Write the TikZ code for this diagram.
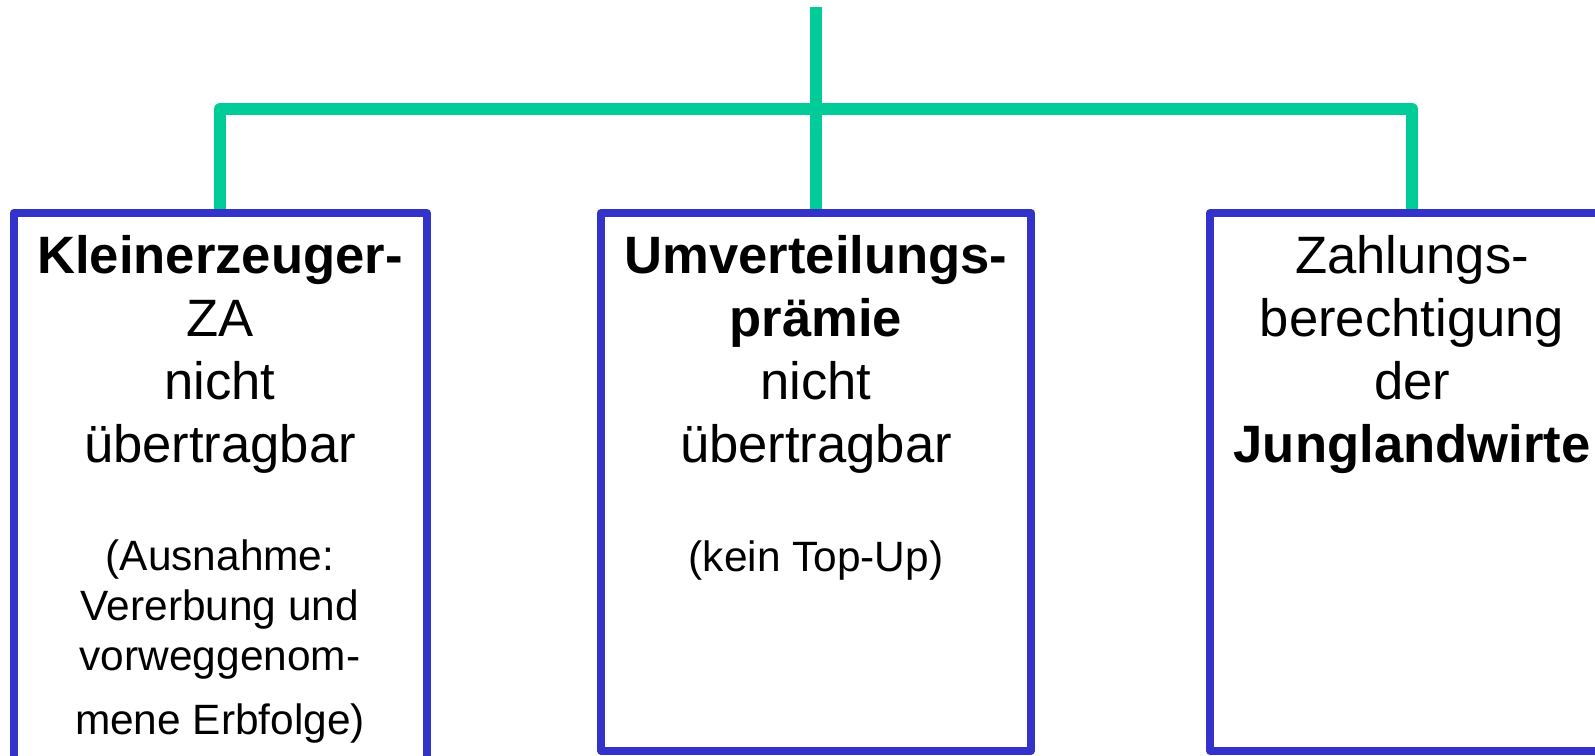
\documentclass[tikz,border=0pt]{standalone}
\usepackage{fontspec}
\setmainfont{Liberation Sans}
\usetikzlibrary{calc}
\usetikzlibrary{positioning}
\usetikzlibrary{backgrounds}

\definecolor{zagreen}{HTML}{00CC99}
\definecolor{zablue}{HTML}{3333CC}

\begin{document}
\begin{tikzpicture}[x=0.5pt,y=-0.5pt]
% 1 unit = 1 px of the slide, y downwards
    \def\BOXTOP{209}
    \def\BARY{109}
    \def\HEADDOWN{253} % last head baseline below box top
    \def\NOTEDOWN{362} % one-line note baseline below box top
    \def\LONGNOTEDOWN{525} % last line of the long note

    \tikzset{
      zbox/.style={draw=zablue, line width=4pt, line join=round,
        rectangle, inner sep=0pt, anchor=north},
      zline/.style={draw=zagreen, line width=6pt, line join=round},
      headtext/.style={font=\fontsize{26.3}{31.5}\selectfont,
        align=center, inner sep=0pt, anchor=base},
      notetext/.style={font=\fontsize{21.2}{25}\selectfont,
        align=center, inner sep=0pt, anchor=base},
    }

    \useasboundingbox (0,0) rectangle (1595,755);

    % BOXES
    \node[zbox, minimum width=206.5pt, minimum height=300pt] (kz) at (220,\BOXTOP) {};
    \node[zbox, minimum width=215pt, minimum height=268.75pt] (uv) at (816,\BOXTOP) {};
    \node[zbox, minimum width=202pt, minimum height=268.75pt] (jl) at (1412,\BOXTOP) {};

    % GREEN TREE
    \coordinate (top) at (816,7);
    \coordinate (bar) at (816,\BARY);
    \begin{scope}[on background layer]
      \draw[zline] (top) -- (uv.north);
      \draw[zline] (kz.north) |- (bar) -| (jl.north);
    \end{scope}

    % TEXTS
    \node[headtext] (kzhead) at ($(kz.north)+(0,\HEADDOWN)$)
        {\textbf{Kleinerzeuger-}\\ ZA\\ nicht\\ übertragbar};
    \node[notetext] (kznote) at ($(kz.north)+(0,\LONGNOTEDOWN)$)
        {(Ausnahme:\\ Vererbung und\\ vorweggenom-\\[7pt] mene Erbfolge)};

    \node[headtext] (uvhead) at ($(uv.north)+(0,\HEADDOWN)$)
        {\textbf{Umverteilungs-}\\ \textbf{prämie}\\ nicht\\ übertragbar};
    \node[notetext] (uvnote) at ($(uv.north)+(0,\NOTEDOWN)$)
        {(kein Top-Up)};

    \node[headtext] (jlhead) at ($(jl.north)+(0,\HEADDOWN)$)
        {Zahlungs-\\ berechtigung\\ der\\ \textbf{Junglandwirte}};

\end{tikzpicture}
\end{document}
